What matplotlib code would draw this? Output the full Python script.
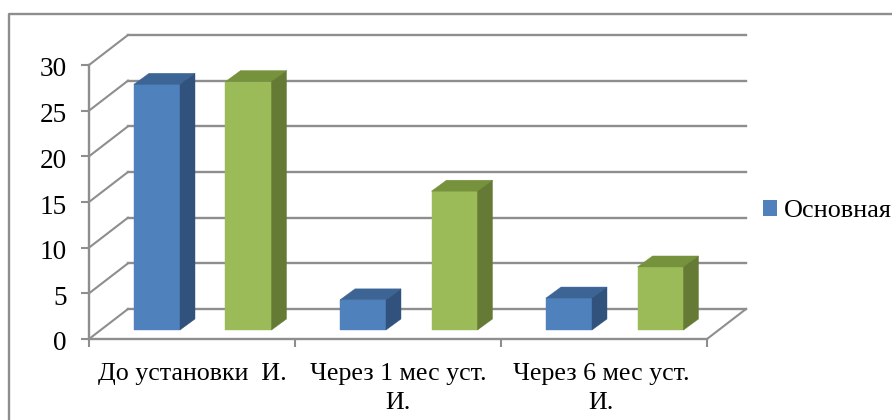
import matplotlib
matplotlib.use("Agg")
from matplotlib import pyplot as plt
from matplotlib.lines import Line2D
from matplotlib.patches import Patch, Polygon
from matplotlib.transforms import ScaledTranslation

categories = ["До установки  И.", "Через 1 мес уст.\nИ.", "Через 6 мес уст.\nИ."]
main_group = [26.9, 3.3, 3.5]
second_group = [27.2, 15.2, 6.9]
y_ticks = [0, 5, 10, 15, 20, 25, 30]
legend_label = "Основная"

W, H = 892, 420
LEFT, RIGHT, BOTTOM, TOP = 89, 707, 339, 65

GRID = "#8e8e8e"
BLUE = ("#4f81bd", "#3c6494", "#31527c")
GREEN = ("#9bbb59", "#76923c", "#657a34")

# depth offsets in data units (px / scale)
PX_X = 3 / (RIGHT - LEFT)
PX_Y = 30 / (BOTTOM - TOP)
BACK_X, BACK_Y = 39 * PX_X, 30 * PX_Y
BAR_DX, BAR_DY = 15 * PX_X, 11 * PX_Y
BAR_Y0 = 9 * PX_Y
BAR_W = 46 * PX_X


def draw_bar(ax, x0, value, colors):
    front, top, side = colors
    y0, y1 = BAR_Y0, BAR_Y0 + value
    x1 = x0 + BAR_W
    faces = [
        ([(x0, y0), (x1, y0), (x1, y1), (x0, y1)], front),
        ([(x0, y1), (x1, y1), (x1 + BAR_DX, y1 + BAR_DY), (x0 + BAR_DX, y1 + BAR_DY)], top),
        ([(x1, y0), (x1 + BAR_DX, y0 + BAR_DY), (x1 + BAR_DX, y1 + BAR_DY), (x1, y1)], side),
    ]
    for pts, color in faces:
        ax.add_patch(Polygon(pts, closed=True, facecolor=color, edgecolor=color,
                             linewidth=0.3, zorder=3, clip_on=False))


plt.rcParams['font.family'] = ['Liberation Serif', 'DejaVu Serif']
fig = plt.figure(figsize=(W / 100, H / 100), dpi=100)
ax = fig.add_axes([LEFT / W, 1 - BOTTOM / H, (RIGHT - LEFT) / W, (BOTTOM - TOP) / H])
ax.set_xlim(0, 3)
ax.set_ylim(0, 30)
ax.patch.set_visible(False)

for side in ('top', 'right'):
    ax.spines[side].set_visible(False)
for side in ('left', 'bottom'):
    ax.spines[side].set_color(GRID)
    ax.spines[side].set_linewidth(1.7)

# back wall grid and the diagonals running to it
for tick in y_ticks:
    ax.plot([0, BACK_X], [tick, tick + BACK_Y], color=GRID, lw=1.5, clip_on=False, zorder=1)
    ax.plot([BACK_X, 3 + BACK_X], [tick + BACK_Y] * 2, color=GRID, lw=1.7, clip_on=False, zorder=1)
ax.plot([3, 3 + BACK_X], [0, BACK_Y], color=GRID, lw=1.5, clip_on=False, zorder=1)

for i in range(len(categories)):
    draw_bar(ax, i + 45 * PX_X, main_group[i], BLUE)
    draw_bar(ax, i + 136.5 * PX_X, second_group[i], GREEN)

ax.set_yticks(y_ticks)
ax.set_xticks(range(len(categories) + 1))
ax.set_xticklabels([])
ax.set_xticks([0.5, 1.5, 2.485], minor=True)
ax.set_xticklabels(categories, minor=True, fontsize=18.7, linespacing=1.42)
ax.tick_params(axis='y', length=6, width=1.5, color=GRID, labelsize=19.6, pad=10)
ax.tick_params(axis='x', which='major', length=6, width=1.5, color=GRID)
ax.tick_params(axis='x', which='minor', length=0, pad=17)

# numbers sit a little below their tick marks
shift = ScaledTranslation(0, -2 / 100, fig.dpi_scale_trans)
for label in ax.get_yticklabels():
    label.set_transform(label.get_transform() + shift)

# chart frame, cut off by the right and bottom edges
fig.add_artist(Line2D([9 / W, 9 / W, 1], [0, 1 - 14 / H, 1 - 14 / H], color=GRID, lw=1.7))

handle = Patch(facecolor=BLUE[0], edgecolor=BLUE[0], linewidth=0)
fig.legend([handle], [legend_label], loc='center left', bbox_to_anchor=(755 / W, 1 - 211 / H),
           frameon=False, fontsize=18.8, handlelength=0.55, handleheight=0.55,
           handletextpad=0.26, borderpad=0, borderaxespad=0.3)

fig.savefig("out.png", dpi=100)
